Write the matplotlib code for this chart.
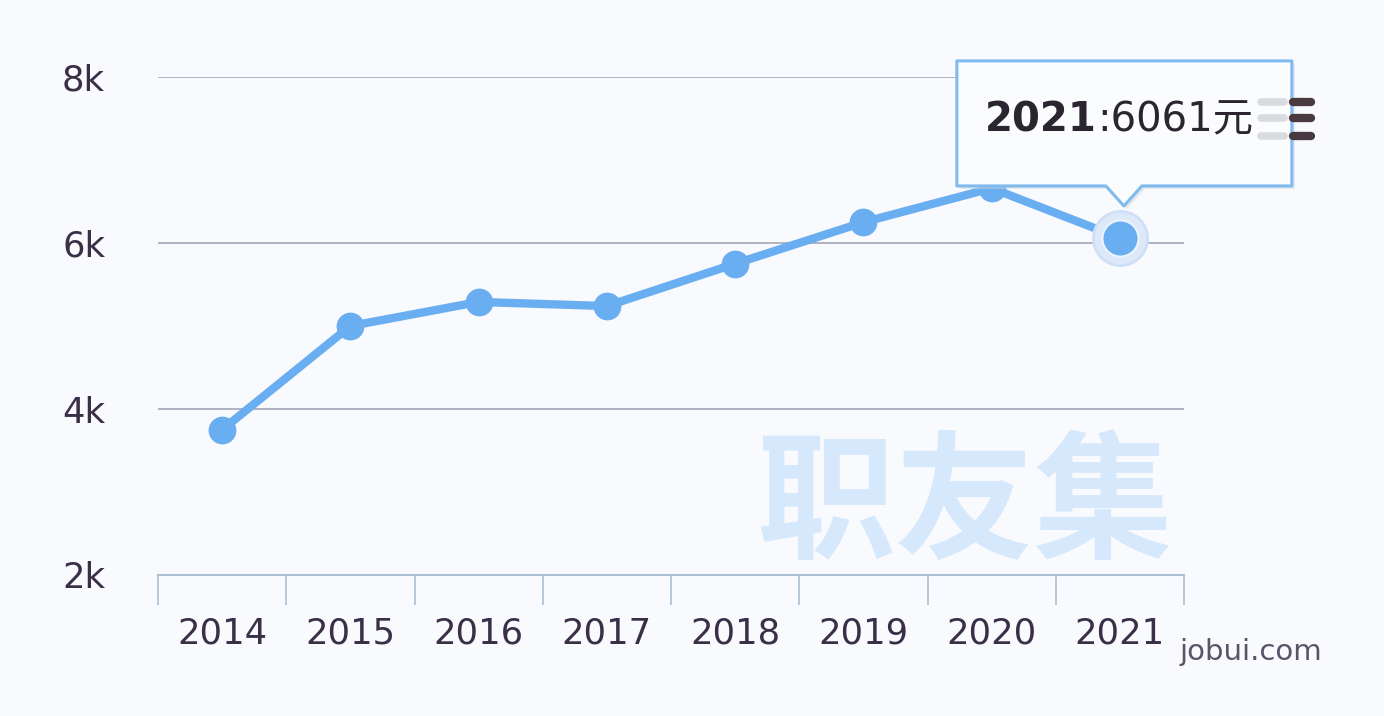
import matplotlib
matplotlib.use("Agg")
import matplotlib.pyplot as plt
from matplotlib.patches import Polygon
from matplotlib.transforms import IdentityTransform
import numpy as np

years = ["2014", "2015", "2016", "2017", "2018", "2019", "2020", "2021"]
salary = [3750, 5000, 5290, 5240, 5750, 6250, 6660, 6061]
y_ticks = [2000, 4000, 6000, 8000]
y_labels = ["2k", "4k", "6k", "8k"]
tooltip_year = "2021"
tooltip_value = ":6061元"

W, H, DPI = 1384, 716, 100
bg = "#f9fafd"
line_c = "#6aaef2"
txt_c = "#3a2f47"

fig = plt.figure(figsize=(W / DPI, H / DPI), dpi=DPI, facecolor=bg)
ax = fig.add_axes([158 / W, (H - 575) / H, (1184 - 158) / W, (575 - 77) / H], facecolor=bg)

x = np.arange(len(years))
ax.set_xlim(-0.5, len(years) - 0.5)
ax.set_ylim(2000, 8000)

# grid
for yt in y_ticks[1:]:
    ax.axhline(yt, color="#a9adbd", lw=1.3, zorder=1)

for s in ["top", "right", "left"]:
    ax.spines[s].set_visible(False)
ax.spines["bottom"].set_color("#a9c1d6")
ax.spines["bottom"].set_linewidth(1.5)

ax.set_yticks(y_ticks)
ax.set_yticklabels(y_labels)
ax.tick_params(axis="y", length=0, pad=38, labelsize=25.5, labelcolor=txt_c)
ax.set_xticks(x)
ax.set_xticklabels(years)
ax.tick_params(axis="x", which="major", length=0, pad=30, labelsize=25.5, labelcolor=txt_c)
ax.set_xticks(np.arange(-0.5, len(years)), minor=True)
ax.tick_params(axis="x", which="minor", length=21.5, width=1.2, color="#a9c1d6")
for lab in ax.get_xticklabels() + ax.get_yticklabels():
    lab.set_family("DejaVu Sans")

# watermark
ax.text(0.786, 0.135, "职友集", transform=ax.transAxes, ha="center", va="center",
        fontsize=100, color="#d5e8fc", family=["Noto Sans CJK SC"], fontweight="bold", zorder=0)

# line
ax.plot(x, salary, color=line_c, lw=6, zorder=3, solid_capstyle="round")
ax.plot(x[:-1], salary[:-1], "o", color=line_c, ms=19, zorder=4)
# highlighted last point
ax.plot(x[-1], salary[-1], "o", color="#dde9f9", ms=39, zorder=4, mec="#cfe0f6", mew=2)
ax.plot(x[-1], salary[-1], "o", color=line_c, ms=26, zorder=5, mec="#eef4fc", mew=1.5)

# tooltip anchored to last point
fig.canvas.draw()
px, py = ax.transData.transform((x[-1], salary[-1]))
left, right, bot, top = px - 163, px + 172, py + 52, py + 177
tip = (px + 4, py + 32)
pts = [(left, bot), (px - 14, bot), tip, (px + 22, bot), (right, bot), (right, top), (left, top)]
shadow = Polygon([(a + 3, b - 3) for a, b in pts], closed=True, transform=IdentityTransform(),
                 facecolor="#d3d6dc", edgecolor="none", alpha=0.5, zorder=9)
box = Polygon(pts, closed=True, transform=IdentityTransform(), facecolor="#fbfcfe",
              edgecolor="#80bbef", lw=2.2, joinstyle="round", zorder=10)
fig.add_artist(shadow)
fig.add_artist(box)
t1 = fig.text(left + 28, (bot + top) / 2 + 3, tooltip_year, transform=IdentityTransform(),
              ha="left", va="center", fontsize=29, fontweight="bold", color="#2b2530",
              family=["DejaVu Sans", "Noto Sans CJK SC"], zorder=11)
fig.canvas.draw()
bb = t1.get_window_extent()
fig.text(bb.x1 + 1, (bot + top) / 2 + 3, tooltip_value, transform=IdentityTransform(),
         ha="left", va="center", fontsize=29, color="#2b2530",
         family=["DejaVu Sans", "Noto Sans CJK SC"], zorder=11)

# menu icon
for yy in [102, 118, 136]:
    fy = H - yy
    fig.add_artist(plt.Line2D([1261, 1284], [fy, fy], transform=IdentityTransform(),
                              color="#d8dbe0", lw=5.5, solid_capstyle="round", zorder=12))
    fig.add_artist(plt.Line2D([1293, 1311], [fy, fy], transform=IdentityTransform(),
                              color="#4a3a40", lw=6, solid_capstyle="round", zorder=12))

fig.text(1322 / W, (H - 652) / H, "jobui.com", ha="right", va="center", fontsize=21,
         color="#5a5468", family="DejaVu Sans")

fig.savefig("out.png", dpi=DPI, facecolor=bg)
